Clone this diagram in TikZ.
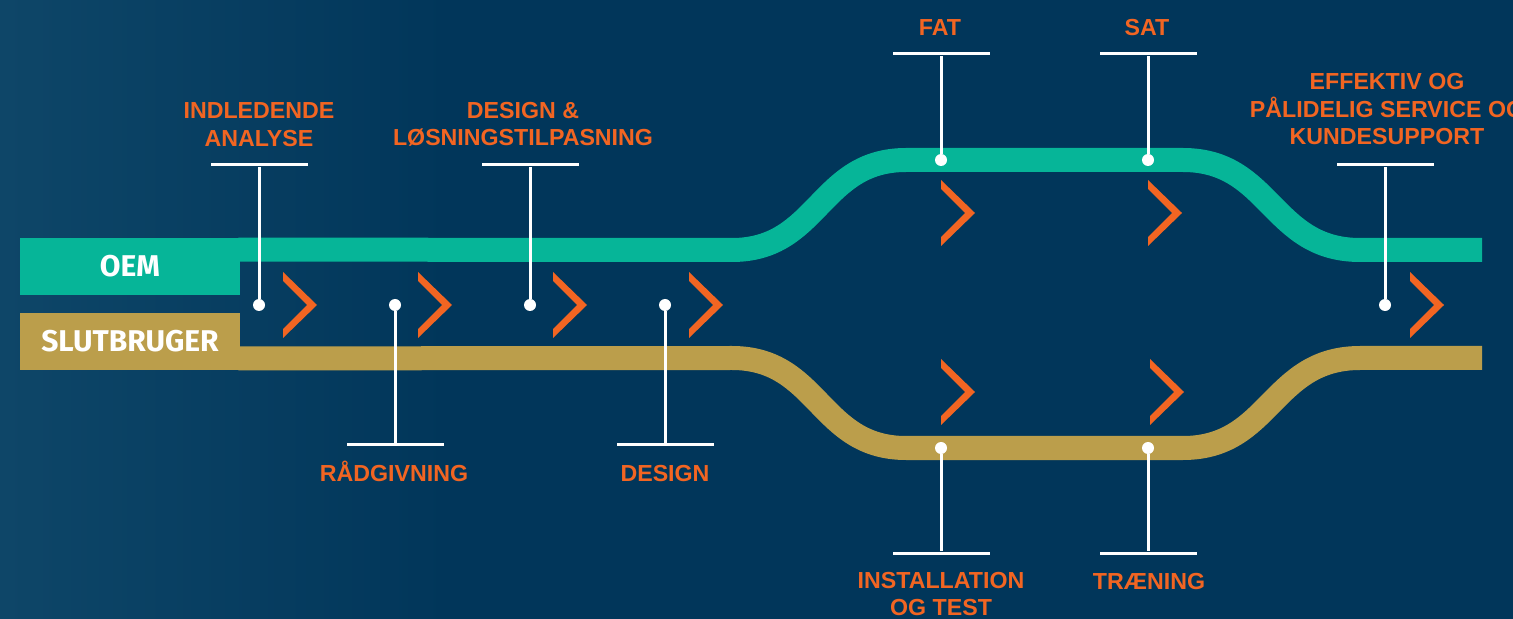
\documentclass[tikz,border=0pt]{standalone}
\usepackage{fontspec}
\setmainfont{Liberation Sans}
\newfontfamily\lanefont{Fira Sans}
\usetikzlibrary{positioning}

\definecolor{navy}{RGB}{1,54,90}
\definecolor{navylight}{RGB}{14,70,104}
\definecolor{oemgreen}{RGB}{6,181,152}
\definecolor{slutgold}{RGB}{187,158,75}
\definecolor{stageorange}{RGB}{242,101,34}

\begin{document}
\begin{tikzpicture}[x=0.5pt,y=-0.5pt,
    lane/.style={minimum width=110pt,minimum height=28.5pt,inner sep=0pt,
                 text=white,font=\lanefont\bfseries\fontsize{15}{15}\selectfont},
    band/.style={line width=12pt},
    dot/.style={circle,fill=white,inner sep=0pt,minimum size=6pt},
    bar/.style={rectangle,fill=white,inner sep=0pt,minimum width=48.5pt,minimum height=1.5pt},
    stem/.style={white,line width=1.5pt},
    stage/.style={text=stageorange,align=center,inner sep=0pt,
                  font=\bfseries\fontsize{11.6}{13.75}\selectfont},
    chev/.style={fill=stageorange}]

    \useasboundingbox (0,0) rectangle (1513,619);
    \fill[navy] (0,0) rectangle (1513,619);
    \shade[left color=navylight,right color=navy] (0,0) rectangle (450,619);

    % the two lanes
    \node[lane,fill=oemgreen] (oem) at (130,266.5) {OEM};
    \node[lane,fill=slutgold] (slut) at (130,341.5) {SLUTBRUGER};

    \draw[band,oemgreen] ([xshift=-1pt,yshift=-6pt]oem.north east) -- (732,250)
        .. controls (819,250) and (819,160) .. (906,160) -- (1183,160)
        .. controls (1271,160) and (1271,250) .. (1360,250) -- (1482,250);
    \draw[band,slutgold] ([xshift=-1pt,yshift=6pt]slut.south east) -- (732,358)
        .. controls (819,358) and (819,448) .. (906,448) -- (1183,448)
        .. controls (1271,448) and (1271,358) .. (1360,358) -- (1482,358);

    % chevrons
    \foreach \cx/\cy in {283/305,418/305,553/305,689/305,941/213,1148/213,941/392,1150/392,1410/305}
        \fill[chev] (\cx,\cy) ++(0,-33) -- ++(34,33) -- ++(-34,33) -- ++(0,-9)
            -- ++(24,-24) -- ++(-24,-24) -- cycle;

    % milestones
    \node[dot] (anadot) at (259,305) {};
    \node[bar] (anabar) at (259,165) {};
    \node[stage] (analabel) at (259,124.5) {INDLEDENDE\\ANALYSE};

    \node[dot] (raaddot) at (395,305) {};
    \node[bar] (raadbar) at (395,445) {};
    \node[stage,anchor=base] (raadlabel) at (394,481) {RÅDGIVNING};

    \node[dot] (losndot) at (530,305) {};
    \node[bar] (losnbar) at (530,165) {};
    \node[stage] (losnlabel) at (523,124.5) {DESIGN \&\\LØSNINGSTILPASNING};

    \node[dot] (desdot) at (665,305) {};
    \node[bar] (desbar) at (665,445) {};
    \node[stage,anchor=base] (deslabel) at (665,481) {DESIGN};

    \node[dot] (fatdot) at (941,160) {};
    \node[bar] (fatbar) at (941,54) {};
    \node[stage,anchor=base] (fatlabel) at (940,36) {FAT};

    \node[dot] (satdot) at (1148,160) {};
    \node[bar] (satbar) at (1148,54) {};
    \node[stage,anchor=base] (satlabel) at (1147,36) {SAT};

    \node[dot] (instdot) at (941,448) {};
    \node[bar] (instbar) at (941,553) {};
    \node[stage] (instlabel) at (941,594) {INSTALLATION\\OG TEST};

    \node[dot] (trendot) at (1148,448) {};
    \node[bar] (trenbar) at (1148,553) {};
    \node[stage,anchor=base] (trenlabel) at (1149,589) {TRÆNING};

    \node[dot] (servdot) at (1385,305) {};
    \node[bar] (servbar) at (1385,165) {};
    \node[stage] (servlabel) at (1387,109.5) {EFFEKTIV OG\\PÅLIDELIG SERVICE OG\\KUNDESUPPORT};

    \foreach \m in {ana,raad,losn,des,fat,sat,inst,tren,serv}
        \draw[stem] (\m dot) -- (\m bar);

\end{tikzpicture}
\end{document}
